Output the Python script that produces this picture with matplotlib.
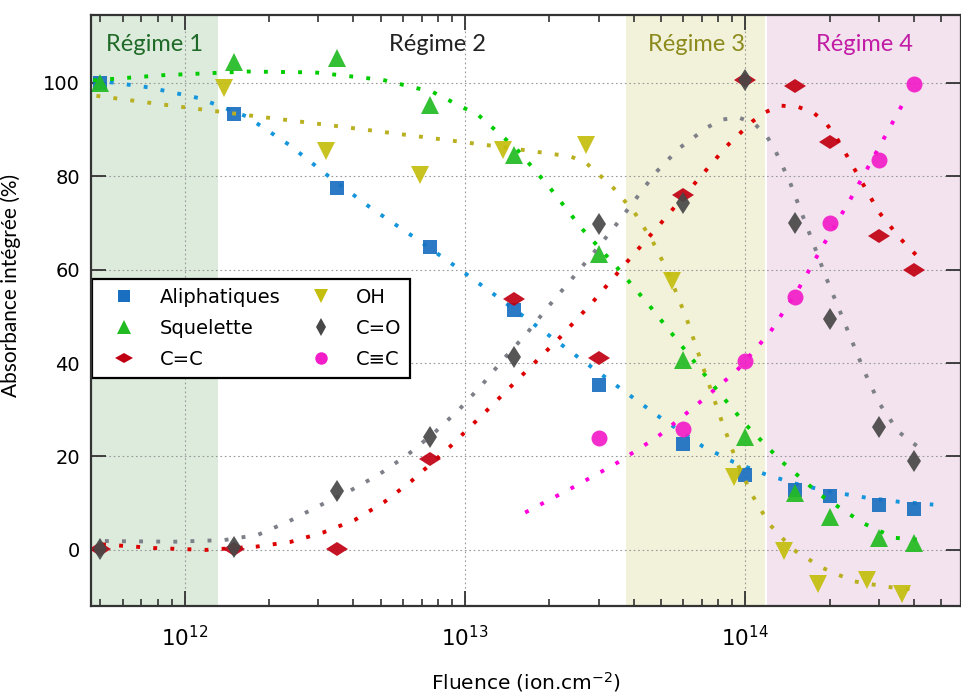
import matplotlib
matplotlib.use("Agg")
import matplotlib.pyplot as plt
from matplotlib.markers import MarkerStyle
from matplotlib.transforms import Affine2D
from matplotlib.lines import Line2D

# mesures (fluence en ion.cm-2, absorbance en %)
fluence = [5e11, 1.5e12, 3.5e12, 7.5e12, 1.5e13, 3e13, 6e13, 1e14, 1.5e14, 2e14, 3e14, 4e14]
aliphatiques = [100, 93.2, 77.5, 64.9, 51.4, 35.2, 22.6, 16.1, 12.9, 11.5, 9.6, 8.7]
squelette = [100, 104.5, 105.3, 95.3, 84.6, 63.4, 40.7, 24.2, 12.2, 7.0, 2.5, 1.4]
c_double_c = [0.3, 0.3, 0.3, 19.5, 53.6, 41.1, 75.9, 100.5, 99.2, 87.3, 67.1, 60.0]
c_double_o = [0.3, 0.7, 12.6, 24.1, 41.2, 69.8, 74.2, 100.5, 70.0, 49.5, 26.4, 19.1]

fluence_oh = [1.38e12, 3.2e12, 6.9e12, 1.37e13, 2.7e13, 5.5e13, 9.1e13, 1.37e14, 1.82e14, 2.72e14, 3.63e14]
oh = [98.9, 85.3, 80.3, 85.7, 86.7, 57.5, 15.7, -0.3, -7.2, -6.5, -9.5]

fluence_triple = [3e13, 6e13, 1e14, 1.5e14, 2e14, 3e14, 4e14]
c_triple_c = [24.0, 25.8, 40.4, 54.1, 70.0, 83.5, 99.8]

# courbes d'ajustement
fit_ali_x = [4.7e11, 7.45e11, 1.125e12, 1.66e12, 2.36e12, 3.29e12, 4.59e12, 6.52e12, 9.2e12,
             1.29e13, 1.82e13, 2.54e13, 3.56e13, 5.01e13, 7.08e13, 9.1e13, 1.19e14, 1.55e14,
             2.04e14, 2.69e14, 3.54e14, 4.69e14]
fit_ali_y = [100.6, 99.0, 96.7, 92.8, 86.7, 79.8, 73.3, 67.1, 60.8, 54.4, 47.7, 41.2, 34.7,
             28.2, 22.1, 18.8, 16.1, 14.0, 12.4, 11.2, 10.3, 9.7]

fit_squ_x = [4.71e11, 8.3e11, 1.67e12, 2.92e12, 5.1e12, 7.68e12, 1.12e13, 1.53e13, 2.01e13,
             2.61e13, 3.46e13, 4.55e13, 5.93e13, 7.69e13, 1.005e14, 1.35e14, 1.86e14, 2.64e14,
             3.4e14, 4.5e14]
fit_squ_y = [100.5, 101.6, 102.4, 102.2, 100.6, 98.0, 93.0, 85.8, 77.5, 68.8, 60.7, 52.3, 43.7,
             35.2, 26.8, 18.9, 11.7, 5.7, 2.6, 2.0]

fit_oh_x = [4.84e11, 8.44e11, 1.7e12, 3.4e12, 6.84e12, 1.37e13, 2.39e13, 2.72e13, 3.35e13,
            4.02e13, 4.67e13, 5.29e13, 6.18e13, 7.08e13, 8.13e13, 9.4e13, 1.06e14, 1.22e14,
            1.48e14, 1.88e14, 2.43e14, 3.2e14, 4.2e14]
fit_oh_y = [97.2, 95.3, 93.0, 90.8, 88.5, 86.2, 84.2, 82.7, 77.8, 72.3, 66.1, 59.6, 49.5, 39.0,
            28.6, 18.3, 11.7, 5.5, 0.1, -3.8, -6.7, -7.9, -8.6]

fit_co_x = [5.19e11, 9.09e11, 1.38e12, 1.82e12, 2.35e12, 3.03e12, 3.9e12, 4.95e12, 6.25e12,
            7.78e12, 9.55e12, 1.16e13, 1.38e13, 1.67e13, 1.99e13, 2.39e13, 2.86e13, 3.41e13,
            4.03e13, 4.78e13, 5.82e13, 7.3e13, 8.24e13, 9.45e13, 1.08e14, 1.19e14, 1.28e14,
            1.44e14, 1.59e14, 1.76e14, 1.94e14, 2.16e14, 2.4e14, 2.67e14, 3.0e14, 3.52e14, 4.38e14]
fit_co_y = [1.9, 1.75, 2.1, 3.2, 6.1, 9.5, 12.7, 16.2, 20.4, 25.1, 30.1, 35.6, 41.0, 46.5, 52.2,
            57.8, 63.4, 69.1, 74.8, 80.7, 86.0, 90.4, 92.1, 92.6, 91.2, 88.7, 85.5, 78.9, 72.1,
            65.2, 58.4, 51.6, 44.8, 38.0, 31.5, 25.3, 20.9]

fit_cc_x = [5.07e11, 7.78e11, 1.19e12, 1.8e12, 2.38e12, 3.11e12, 4.04e12, 5.14e12, 6.43e12,
            8.81e12, 1.19e13, 1.6e13, 2.16e13, 2.87e13, 3.78e13, 4.98e13, 6.55e13, 8.61e13,
            1.06e14, 1.18e14, 1.34e14, 1.55e14, 1.76e14, 1.95e14, 2.12e14, 2.27e14, 2.61e14,
            3.0e14, 3.58e14, 4.31e14]
fit_cc_y = [1.2, 0.4, 0.0, 0.7, 1.7, 3.7, 6.4, 10.2, 14.7, 22.0, 29.7, 37.4, 45.2, 53.2, 61.6,
            69.8, 78.2, 86.5, 91.7, 93.7, 95.1, 94.8, 93.5, 91.2, 88.2, 85.1, 78.7, 72.3, 66.6, 61.6]

fit_tri_x = [1.64e13, 2.38e13, 3.44e13, 4.89e13, 6.73e13, 9.34e13, 1.23e14, 1.55e14, 1.91e14,
             2.36e14, 3.1e14, 3.79e14]
fit_tri_y = [8.0, 13.1, 18.4, 24.3, 31.1, 38.4, 46.7, 55.9, 65.5, 74.8, 87.7, 97.3]

plt.rcParams["font.family"] = ["DejaVu Sans"]
label_font = ["Lato", "DejaVu Sans"]

fig, ax = plt.subplots(figsize=(9.62, 6.97), dpi=100)
fig.subplots_adjust(left=0.0946, right=0.999, top=0.9785, bottom=0.1306)

ax.set_xscale("log")
ax.set_xlim(4.63e11, 5.89e14)
ax.set_ylim(-12, 114.5)

# regimes
ax.axvspan(1e10, 1.31e12, color="#dcebdc", zorder=0, lw=0)
ax.axvspan(3.76e13, 1.18e14, color="#f2f2da", zorder=0, lw=0)
ax.axvspan(1.2e14, 1e16, color="#f3e3ee", zorder=0, lw=0)

ax.text(7.8e11, 108.1, "Régime 1", color="#1f6a28", fontsize=17, family=label_font, ha="center", va="center")
ax.text(8e12, 108.1, "Régime 2", color="#222222", fontsize=17, family=label_font, ha="center", va="center")
ax.text(6.68e13, 108.1, "Régime 3", color="#8c8a1c", fontsize=17, family=label_font, ha="center", va="center")
ax.text(2.66e14, 108.1, "Régime 4", color="#c21ca6", fontsize=17, family=label_font, ha="center", va="center")

ax.grid(True, which="major", color="#999999", linestyle=(0, (1.5, 2.5)), linewidth=0.8, zorder=1)

dots = (0, (1, 3.4))
lw = 2.8

hdiamond = MarkerStyle("d", transform=Affine2D().rotate_deg(90))

series = [
    (fit_ali_x, fit_ali_y, "#1596dc", fluence, aliphatiques, "s", 10.5, "#1a6fc0", "Aliphatiques"),
    (fit_squ_x, fit_squ_y, "#00cc00", fluence, squelette, "^", 12.5, "#22bb22", "Squelette"),
    (fit_cc_x, fit_cc_y, "#dd0000", fluence, c_double_c, hdiamond, 11.5, "#c00012", "C=C"),
    (fit_oh_x, fit_oh_y, "#b8b020", fluence_oh, oh, "v", 12.5, "#c4be0e", "OH"),
    (fit_co_x, fit_co_y, "#7d8088", fluence, c_double_o, "d", 11.5, "#474747", "C=O"),
    (fit_tri_x, fit_tri_y, "#ff00dd", fluence_triple, c_triple_c, "o", 11.5, "#f21cc8", "C≡C"),
]

z = 2
for fx, fy, fcol, px, py, mk, ms, mcol, lab in series:
    ax.plot(fx, fy, linestyle=dots, color=fcol, lw=lw, zorder=z)
    ax.plot(px, py, linestyle="none", marker=mk, ms=ms, color=mcol, mew=0, alpha=0.92, zorder=z + 0.5)
    z += 1

# legende en deux colonnes
handles = []
for s in series:
    handles.append(Line2D([], [], linestyle="none", marker=s[5], ms=s[6] * 0.78, color=s[7], mew=0))
labels = [s[8] for s in series]
leg = ax.legend(handles, labels, ncol=2, loc="upper left", bbox_to_anchor=(0.0015, 0.553),
                borderaxespad=0, fontsize=14, frameon=True, fancybox=False, framealpha=1,
                edgecolor="black", handlelength=2.4, handletextpad=0.6, columnspacing=0.9,
                labelspacing=0.62, borderpad=0.45)
leg.get_frame().set_linewidth(1.6)
leg.set_zorder(20)

ax.set_yticks([0, 20, 40, 60, 80, 100])
ax.tick_params(which="both", direction="in", top=True, right=True, colors="#333333", labelcolor="black")
ax.tick_params(which="major", length=11, width=1.3, labelsize=14, pad=8)
ax.tick_params(axis="x", which="major", labelsize=15.5, pad=14)
ax.tick_params(which="minor", length=5, width=1.2)
ax.tick_params(axis="y", which="minor", left=False, right=False)

for sp in ax.spines.values():
    sp.set_color("#333333")
    sp.set_linewidth(1.6)
    sp.set_zorder(30)

ax.set_xlabel("Fluence (ion.cm$^{-2}$)", fontsize=14.5, labelpad=14)
ax.set_ylabel("Absorbance intégrée (%)", fontsize=15, family=label_font)
ax.yaxis.set_label_coords(-0.081, 0.543)

fig.savefig("out.png", dpi=100)
